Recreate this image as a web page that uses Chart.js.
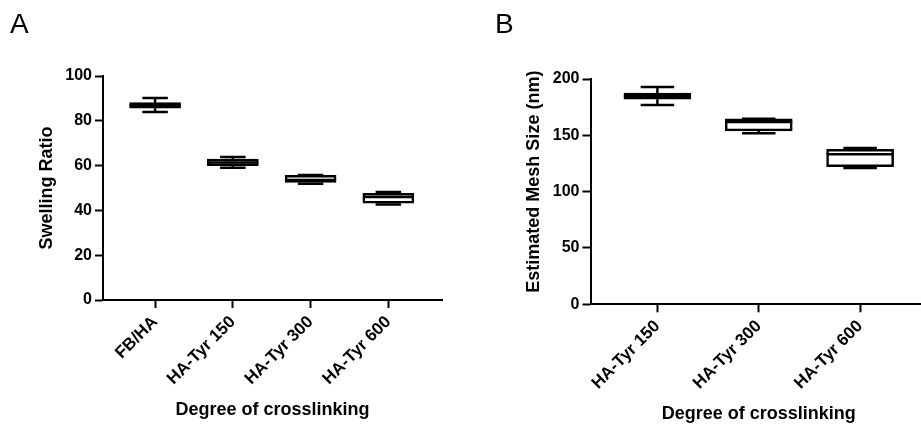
<!DOCTYPE html>
<html>
<head>
<meta charset="utf-8">
<script src="https://cdn.jsdelivr.net/npm/chart.js@4.4.1/dist/chart.umd.min.js"></script>
<style>
  body { margin: 0; width: 921px; height: 426px; overflow: hidden; background: #fff; position: relative; font-family: "Liberation Sans", Arial, sans-serif; }
  canvas { position: absolute; top: 0; }
  #chartA { left: 0; }
  #chartB { left: 460px; }
  .panel { position: absolute; top: 10px; font-size: 28px; line-height: 28px; color: #000; }
</style>
</head>
<body>
<canvas id="chartA" width="460" height="426"></canvas>
<canvas id="chartB" width="470" height="426"></canvas>
<div class="panel" style="left:10px">A</div>
<div class="panel" style="left:495px">B</div>
<script>
// Panel A - swelling ratio
const swellLabels = ["FB/HA", "HA-Tyr 150", "HA-Tyr 300", "HA-Tyr 600"];
const swellMin = [83.9, 59.0, 51.9, 42.6];
const swellQ1 = [85.6, 60.0, 52.5, 43.2];
const swellMedian = [86.9, 61.4, 53.6, 46.0];
const swellQ3 = [88.1, 62.9, 55.7, 47.6];
const swellMax = [90.2, 63.8, 55.8, 48.2];
const swellTicks = [0, 20, 40, 60, 80, 100];

// Panel B - estimated mesh size
const meshLabels = ["HA-Tyr 150", "HA-Tyr 300", "HA-Tyr 600"];
const meshMin = [177.0, 151.9, 121.0];
const meshQ1 = [182.1, 153.9, 122.2];
const meshMedian = [184.7, 161.8, 133.2];
const meshQ3 = [187.4, 164.6, 137.6];
const meshMax = [192.8, 164.8, 138.8];
const meshTicks = [0, 50, 100, 150, 200];

const FONT = '"Liberation Sans", Arial, sans-serif';

function makeBoxChart(canvasId, labels, stats, yTicks, yTitle, lay) {
    // whiskers, caps and median lines, placed with the chart's own scales
    const whiskers = {
        id: 'whiskers',
        afterDatasetsDraw(chart) {
            const { ctx, scales: { x, y } } = chart;
            const half = lay.box / 2;
            const cap = lay.box / 4;
            ctx.save();
            ctx.strokeStyle = '#000';
            ctx.lineWidth = 2.5;
            labels.forEach((_, i) => {
                const cx = x.getPixelForValue(i);
                const yMin = y.getPixelForValue(stats.min[i]);
                const yQ1 = y.getPixelForValue(stats.q1[i]);
                const yMed = y.getPixelForValue(stats.median[i]);
                const yQ3 = y.getPixelForValue(stats.q3[i]);
                const yMax = y.getPixelForValue(stats.max[i]);
                ctx.beginPath();
                ctx.moveTo(cx, yQ3); ctx.lineTo(cx, yMax);
                ctx.moveTo(cx - cap, yMax); ctx.lineTo(cx + cap, yMax);
                ctx.moveTo(cx, yQ1); ctx.lineTo(cx, yMin);
                ctx.moveTo(cx - cap, yMin); ctx.lineTo(cx + cap, yMin);
                ctx.moveTo(cx - half, yMed); ctx.lineTo(cx + half, yMed);
                ctx.stroke();
            });
            ctx.restore();
        }
    };

    return new Chart(document.getElementById(canvasId), {
        type: 'bar',
        data: {
            datasets: [{
                data: labels.map((_, i) => ({ x: i, y: [stats.q1[i], stats.q3[i]] })),
                backgroundColor: '#fff',
                borderColor: '#000',
                borderWidth: 2.5,
                borderSkipped: false,
                barThickness: lay.box
            }]
        },
        plugins: [whiskers],
        options: {
            responsive: false,
            animation: false,
            events: [],
            layout: { padding: { left: lay.padLeft, right: lay.padRight, top: lay.padTop, bottom: 0 } },
            plugins: { legend: { display: false }, tooltip: { enabled: false } },
            scales: {
                x: {
                    type: 'linear',
                    offset: false,
                    min: lay.xMin,
                    max: lay.xMax,
                    afterBuildTicks: s => { s.ticks = labels.map((_, i) => ({ value: i })); },
                    afterFit: s => { s.height = lay.xHeight; },
                    ticks: {
                        callback: v => labels[v],
                        minRotation: 45,
                        maxRotation: 45,
                        autoSkip: false,
                        color: '#000',
                        padding: 4,
                        font: { family: FONT, size: 17, weight: 'bold' }
                    },
                    grid: { offset: false, drawOnChartArea: false, drawTicks: true, tickLength: 8, tickWidth: 2, tickColor: '#000' },
                    border: { display: true, color: '#000', width: 2 },
                    title: {
                        display: true,
                        text: 'Degree of crosslinking',
                        color: '#000',
                        padding: { top: 0, bottom: lay.titlePad },
                        font: { family: FONT, size: 18, weight: 'bold' }
                    }
                },
                y: {
                    min: 0,
                    max: yTicks[yTicks.length - 1],
                    afterBuildTicks: s => { s.ticks = yTicks.map(v => ({ value: v })); },
                    afterFit: s => { s.width = lay.yWidth; },
                    ticks: {
                        color: '#000',
                        padding: 3,
                        font: { family: FONT, size: 16, weight: 'bold' }
                    },
                    grid: { drawOnChartArea: false, drawTicks: true, tickLength: 8, tickWidth: 2, tickColor: '#000' },
                    border: { display: true, color: '#000', width: 2 },
                    title: {
                        display: true,
                        text: yTitle,
                        color: '#000',
                        padding: { top: 0, bottom: 0 },
                        font: { family: FONT, size: 18, weight: 'bold' }
                    }
                }
            }
        }
    });
}

makeBoxChart('chartA', swellLabels,
    { min: swellMin, q1: swellQ1, median: swellMedian, q3: swellQ3, max: swellMax },
    swellTicks, 'Swelling Ratio',
    { padLeft: 36, yWidth: 67, padRight: 18, padTop: 76, xHeight: 126, titlePad: 5, xMin: -0.67, xMax: 3.69, box: 51 });

makeBoxChart('chartB', meshLabels,
    { min: meshMin, q1: meshQ1, median: meshMedian, q3: meshQ3, max: meshMax },
    meshTicks, '    Estimated Mesh Size (nm)',
    { padLeft: 63, yWidth: 67.5, padRight: 3, padTop: 79, xHeight: 121.7, titlePad: 1, xMin: -0.66, xMax: 2.66, box: 67 });
</script>
</body>
</html>
